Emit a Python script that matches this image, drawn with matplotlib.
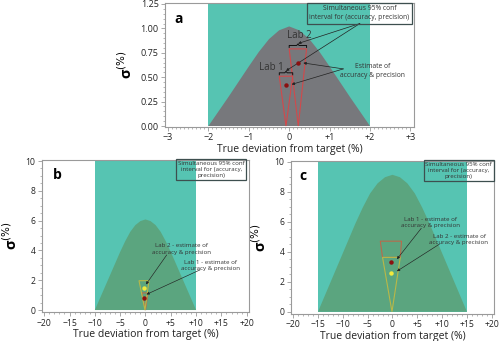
import matplotlib
matplotlib.use("Agg")
import matplotlib.pyplot as plt
from matplotlib.ticker import MultipleLocator

plt.rcParams['font.family'] = ['Open Sans', 'DejaVu Sans']

# ---------------- data ----------------
# panel a : acceptance curve (sigma vs mean deviation), limits +-2 %
a_curve_x = [-2, -1.75, -1.5, -1.25, -1, -0.75, -0.5, -0.25, 0, 0.25, 0.5, 0.75, 1, 1.25, 1.5, 1.75, 2]
a_curve_y = [0, 0.15, 0.30, 0.455, 0.61, 0.76, 0.89, 0.98, 1.02, 0.98, 0.89, 0.76, 0.61, 0.455, 0.30, 0.15, 0]
a_limits = [-2, 2]
a_zone_top = 1.25
a_lab1_ci_x = [-0.245, 0.087, -0.08]
a_lab1_ci_y = [0.51, 0.51, 0.0]
a_lab2_ci_x = [0.0, 0.43, 0.225]
a_lab2_ci_y = [0.79, 0.79, 0.0]
a_lab_mean = [-0.08, 0.23]
a_lab_sd = [0.416, 0.646]
a_xticks = [-3, -2, -1, 0, 1, 2, 3]
a_xticklabels = ["\u22123", "\u22122", "\u22121", "0", "+1", "+2", "+3"]
a_yticks = [0.00, 0.25, 0.50, 0.75, 1.00, 1.25]

# panel b : limits +-10 %
b_curve_x = [-10, -9, -8, -7, -6, -5, -4, -3, -2, -1, 0, 1, 2, 3, 4, 5, 6, 7, 8, 9, 10]
b_curve_y = [0, 0.78, 1.56, 2.34, 3.12, 3.9, 4.62, 5.25, 5.7, 5.97, 6.08,
             5.97, 5.7, 5.25, 4.62, 3.9, 3.12, 2.34, 1.56, 0.78, 0]
b_limits = [-10, 10]
b_zone_top = 10
b_lab1_ci_x = [-0.7, 0.5, 0.0]
b_lab1_ci_y = [1.15, 1.15, 0.0]
b_lab2_ci_x = [-1.28, 0.69, -0.1]
b_lab2_ci_y = [1.97, 1.97, 0.0]
b_lab_mean = [-0.3, -0.3]
b_lab_sd = [0.83, 1.45]

# panel c : limits +-15 %
c_curve_x = [-15, -13.5, -12, -10.5, -9, -7.5, -6, -4.5, -3, -1.5, 0,
             1.5, 3, 4.5, 6, 7.5, 9, 10.5, 12, 13.5, 15]
c_curve_y = [0, 1.17, 2.34, 3.51, 4.68, 5.85, 6.93, 7.88, 8.55, 8.96, 9.12,
             8.96, 8.55, 7.88, 6.93, 5.85, 4.68, 3.51, 2.34, 1.17, 0]
c_limits = [-15, 15]
c_zone_top = 10
c_lab1_ci_x = [-2.45, 1.83, 1.57, -2.0]
c_lab1_ci_y = [4.7, 4.7, 3.62, 3.62]
c_lab2_ci_x = [-2.0, 1.57, -0.1]
c_lab2_ci_y = [3.62, 3.62, 0.0]
c_lab_mean = [-0.3, -0.3]
c_lab_sd = [3.33, 2.56]

bc_xticks = [-20, -15, -10, -5, 0, 5, 10, 15, 20]
bc_xticklabels = ["\u221220", "\u221215", "\u221210", "\u22125", "0", "+5", "+10", "+15", "+20"]
bc_yticks = [0, 2, 4, 6, 8, 10]

# ---------------- style ----------------
TEAL = "#56c4b2"
GRAY = "#77787c"
GREEN = "#5ba57f"
RED = "#d2494b"
DARKRED = "#8b1010"
YELLOW = "#f2ea3c"
OLIVE = "#b9b848"
SPINE = "#9a9a9a"
BOXEDGE = "#3d4f4f"
XLABEL = "True deviation from target (%)"

fig = plt.figure(figsize=(5.0, 3.41), dpi=100)
axa = fig.add_axes([0.33, 0.6276, 0.498, 0.3636])
axb = fig.add_axes([0.0834, 0.0842, 0.4146, 0.4466])
axc = fig.add_axes([0.5814, 0.0792, 0.4066, 0.450])


def style(ax, fs):
    for s in ax.spines.values():
        s.set_color(SPINE)
        s.set_linewidth(0.8)
    ax.tick_params(which="both", direction="out", color=SPINE, labelsize=fs,
                   labelcolor="#222222", pad=1.5)
    ax.tick_params(which="major", length=3, width=0.6)
    ax.tick_params(which="minor", length=1.5, width=0.5)


def arrow(ax, xy, xytext, lw=0.5):
    ax.annotate("", xy=xy, xytext=xytext,
                arrowprops=dict(arrowstyle="-|>", color="#222222", lw=lw,
                                mutation_scale=4, shrinkA=0, shrinkB=0))


# ---- panel a ----
ax = axa
ax.fill_between(a_limits, [a_zone_top] * 2, 0, color=TEAL, lw=0, zorder=1)
ax.fill(a_curve_x, a_curve_y, color=GRAY, lw=0, zorder=2)
ax.fill(a_lab1_ci_x, a_lab1_ci_y, facecolor="none", edgecolor=RED, lw=0.8, zorder=3)
ax.fill(a_lab2_ci_x, a_lab2_ci_y, facecolor="none", edgecolor=RED, lw=0.8, zorder=3)
ax.plot(a_lab_mean, a_lab_sd, "o", color=DARKRED, ms=3.2, mec="none", zorder=5)
# brackets above the CI regions
for x0, x1, yb in [(a_lab1_ci_x[0], a_lab1_ci_x[1], 0.545), (a_lab2_ci_x[0], a_lab2_ci_x[1], 0.825)]:
    xm = (x0 + x1) / 2
    ax.plot([x0, x0, xm - 0.03, xm, xm + 0.03, x1, x1],
            [yb - 0.02, yb, yb, yb + 0.015, yb, yb, yb - 0.02], color="#111111", lw=0.7, zorder=4)
ax.text(0.25, 0.93, "Lab 2", fontsize=7, color="#333333", ha="center", va="center", zorder=6)
ax.text(-0.45, 0.60, "Lab 1", fontsize=7, color="#333333", ha="center", va="center", zorder=6)
ax.text(1.74, 1.155, "Simultaneous 95% conf\ninterval for (accuracy, precision)", fontsize=4.9,
        color="#333333", ha="center", va="center", linespacing=1.35, zorder=6,
        bbox=dict(boxstyle="square,pad=0.35", facecolor="none", edgecolor=BOXEDGE, lw=0.9))
ax.text(2.07, 0.565, "Estimate of\naccuracy & precision", fontsize=4.9, color="#333333",
        ha="center", va="center", linespacing=1.4, zorder=6)
arrow(ax, (0.22, 0.845), (1.75, 1.05))
arrow(ax, (-0.08, 0.565), (1.75, 1.05))
arrow(ax, (0.35, 0.646), (1.34, 0.585))
arrow(ax, (0.06, 0.426), (1.34, 0.585))
ax.text(-2.75, 1.10, "a", fontsize=10, fontweight="bold", ha="center", va="center", zorder=6)
ax.set_xlim(-3.075, 3.09)
ax.set_ylim(-0.01, 1.26)
ax.set_xticks(a_xticks)
ax.set_xticklabels(a_xticklabels)
ax.set_yticks(a_yticks)
ax.set_yticklabels(["%.2f" % v for v in a_yticks])
ax.xaxis.set_minor_locator(MultipleLocator(0.1))
ax.yaxis.set_minor_locator(MultipleLocator(0.05))
style(ax, 6.5)
ax.set_xlabel(XLABEL, fontsize=7.5, labelpad=1, color="#222222")
ax.set_ylabel("\u03c3$^{(\\%)}$", fontsize=10.5, fontweight="bold", labelpad=4)


# ---- panels b & c ----
def bc_panel(ax, curve_x, curve_y, limits, top, ci_red_x, ci_red_y, ci_yel_x, ci_yel_y,
             mean, sd, label, texts, arrows, box_xy):
    ax.fill_between(limits, [top] * 2, 0, color=TEAL, lw=0, zorder=1)
    ax.fill(curve_x, curve_y, color=GREEN, lw=0, zorder=2)
    ax.fill(ci_red_x, ci_red_y, facecolor="none", edgecolor="#b86a4c", lw=0.8, zorder=3)
    ax.fill(ci_yel_x, ci_yel_y, facecolor="none", edgecolor=OLIVE, lw=0.8, zorder=3)
    ax.plot(mean[0], sd[0], "o", color=DARKRED, ms=3.2, mec="none", zorder=5)
    ax.plot(mean[1], sd[1], "o", color=YELLOW, ms=3.2, mec="none", zorder=5)
    for (tx, ty, s) in texts:
        ax.text(tx, ty, s, fontsize=4.4, color="#333333", ha="center", va="center",
                linespacing=1.3, zorder=6)
    for (xy, xyt) in arrows:
        arrow(ax, xy, xyt, lw=0.45)
    ax.text(box_xy[0], box_xy[1], "Simultaneous 95% conf\ninterval for (accuracy,\nprecision)",
            fontsize=4.4, color="#333333", ha="center", va="center", linespacing=1.25, zorder=6,
            bbox=dict(boxstyle="square,pad=0.3", facecolor="none", edgecolor=BOXEDGE, lw=0.9))
    ax.text(-17.5 if label == "b" else -18, 9.05, label, fontsize=10, fontweight="bold",
            ha="center", va="center", zorder=6)
    ax.set_xlim(-20.5, 20.45)
    ax.set_ylim(-0.15, 10.07)
    ax.set_xticks(bc_xticks)
    ax.set_xticklabels(bc_xticklabels)
    ax.set_yticks(bc_yticks)
    ax.xaxis.set_minor_locator(MultipleLocator(1))
    ax.yaxis.set_minor_locator(MultipleLocator(0.5))
    style(ax, 6.2)
    ax.set_xlabel(XLABEL, fontsize=7.5, labelpad=1, color="#222222")
    ax.set_ylabel("\u03c3$^{(\\%)}$", fontsize=10.5, fontweight="bold", labelpad=4)


bc_panel(axb, b_curve_x, b_curve_y, b_limits, b_zone_top,
         b_lab1_ci_x, b_lab1_ci_y, b_lab2_ci_x, b_lab2_ci_y, b_lab_mean, b_lab_sd, "b",
         [(7.15, 4.1, "Lab 2 - estimate of\naccuracy & precision"),
          (12.9, 3.0, "Lab 1 - estimate of\naccuracy & precision")],
         [((0.1, 1.72), (4.2, 3.7)), ((0.2, 1.05), (10.8, 2.7))],
         (13.0, 9.45))

bc_panel(axc, c_curve_x, c_curve_y, c_limits, c_zone_top,
         c_lab1_ci_x, c_lab1_ci_y, c_lab2_ci_x, c_lab2_ci_y, c_lab_mean, c_lab_sd, "c",
         [(7.66, 5.96, "Lab 1 - estimate of\naccuracy & precision"),
          (13.4, 4.83, "Lab 2 - estimate of\naccuracy & precision")],
         [((0.9, 3.5), (5.8, 5.56)), ((0.9, 2.7), (9.45, 4.5))],
         (13.35, 9.4))

fig.savefig("out.png", dpi=100)
